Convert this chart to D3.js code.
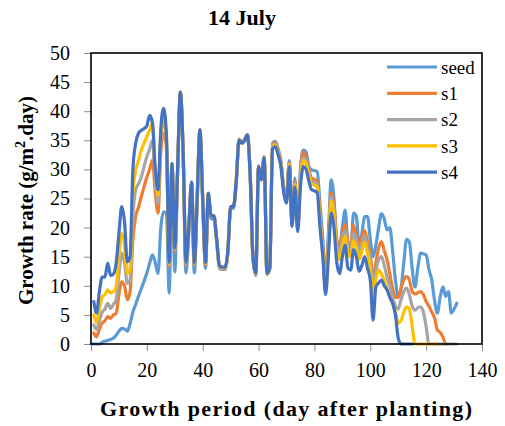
<!DOCTYPE html>
<html>
<head>
<meta charset="utf-8">
<script src="https://cdn.jsdelivr.net/npm/d3@7"></script>
<style>
    body { margin: 0; background: #fff; }
    .axis path { display: none; }
    .axis line { stroke: #8c8c8c; }
    .axis text { font-size: 20px; fill: #000; }
</style>
</head>
<body>
<svg width="505" height="426"></svg>
<script>
var days = [0, 1, 2, 3, 4, 5, 6, 7, 8, 9, 10, 11, 12, 13, 14, 15, 16, 17, 18, 19,
    20, 21, 22, 23, 24, 25, 26, 27, 28, 29, 30, 31, 32, 33, 34, 35, 36, 37, 38, 39,
    40, 41, 42, 43, 44, 45, 46, 47, 48, 49, 50, 51, 52, 53, 54, 55, 56, 57, 58, 59,
    60, 61, 62, 63, 64, 65, 66, 67, 68, 69, 70, 71, 72, 73, 74, 75, 76, 77, 78, 79,
    80, 81, 82, 83, 84, 85, 86, 87, 88, 89, 90, 91, 92, 93, 94, 95, 96, 97, 98, 99,
    100, 101, 102, 103, 104, 105, 106, 107, 108, 109, 110, 111, 112, 113, 114, 115,
    116, 117, 118, 119, 120, 121, 122, 123, 124, 125, 126, 127, 128, 129, 130, 131];

var seed = [0, 0, 0, 0, 0.3, 0.5, 0.6, 0.8, 1, 1.5,
    2.2, 2.7, 2.6, 2.2, 3.5, 5.5, 6.8, 8.2, 9.5, 10.8,
    12.2, 13.9, 15.3, 14, 12.1, 20, 22.7, 22.5, 8.8, 30,
    12.4, 29, 43, 32, 12.2, 19, 27.5, 12.2, 24, 36.5,
    24, 13, 25.5, 21.5, 21.5, 17.5, 13, 12.8, 12.8, 15.5,
    23.3, 23.3, 27.5, 35, 34.5, 35, 36, 29, 14.5, 11.8,
    30.5, 28.5, 32, 12, 13, 34.5, 34.8, 33.5, 31.5, 27,
    25.5, 31.5, 21, 28.5, 20.5, 30, 33.3, 33, 30.5, 29.9,
    29.8, 29.6, 24, 18, 11.6, 19, 28.2, 25, 17.5, 16.7,
    20, 23, 17, 15.5, 22.5, 22, 16.7, 19, 21.9, 21.9,
    18, 15, 17, 20, 22.4, 21.5, 19.6, 20, 16, 11,
    8.1, 9.5, 14, 18, 17.5, 13, 9.8, 13, 15.6, 15.5,
    15.3, 12.8, 11, 7.5, 5.3, 8, 9.8, 8.2, 9, 5.3,
    6, 7];

var s1 = [null, 1.9, 1.25, 2.5, 3.6, 4, 4.7, 4.4, 5, 5.3,
    8.5, 10.7, 10, 7.6, 9, 18, 21.9, 23.5, 25.3, 27,
    28.7, 30, 31.6, 26, 22.5, 33, 36.2, 34, 13.3, 31,
    16, 30, 43.3, 33, 13.5, 20, 27.8, 13.6, 25, 36.8,
    25, 13.6, 25.9, 22, 22, 18, 13.2, 12.9, 12.9, 16,
    23.6, 23.6, 28, 35.2, 34.7, 35.2, 36, 29, 14.8, 12,
    30.6, 28.4, 32.2, 12, 13, 34.3, 34.6, 33.2, 31.2, 26.7,
    25, 31.2, 20.8, 28, 20, 29.5, 33, 32, 30, 28.5,
    28.3, 28, 22, 16.5, 10, 17.5, 25.9, 24, 18, 16.5,
    19, 20.5, 17.5, 17, 20.4, 18.5, 16.5, 18.5, 19.5, 17.5,
    15.5, 11, 14, 16.5, 17.6, 16, 14.5, 12, 9.5, 8,
    8, 9.6, 11, 11.6, 11, 9, 8.6, 8.8, 9, 8.5,
    7.3, 6.5, 5.5, 4.5, 2.4, 2, 1.2, 0, 0, null,
    null, null];

var s2 = [null, 3.3, 2.5, 4, 5.5, 6, 7, 6.1, 6.8, 7.6,
    12, 15.6, 14, 10.4, 11, 22, 26.5, 27.5, 28.7, 30.5,
    32.2, 33.5, 35, 28, 24.2, 35, 38.5, 35, 13.5, 31,
    16.2, 30, 43.3, 33, 13.7, 20, 27.8, 13.8, 25, 36.8,
    25, 13.8, 25.9, 22, 22, 18, 13.3, 13, 13, 16,
    23.6, 23.6, 28, 35.1, 34.6, 35.1, 36, 29, 14.9, 12.1,
    30.5, 28.3, 32.1, 12.1, 13, 34, 34.4, 33, 31, 26.5,
    24.8, 31, 20.6, 27.7, 19.8, 29, 32, 31.5, 29.5, 28,
    27.8, 27.5, 21.5, 16, 9.5, 17, 25.3, 23, 17, 15.5,
    18, 19.5, 16.5, 16, 19, 17.5, 15.5, 17.2, 18.5, 16.5,
    14.5, 9.5, 12.5, 14.5, 15, 13.5, 11.5, 10, 8, 6.5,
    6, 7.6, 9, 9.6, 8.5, 6.5, 5.8, 6.2, 6.4, 5.5,
    3, 0, 0, 0, 0, 0, 0, 0, 0, 0,
    0, 0];

var s3 = [null, 5, 3.7, 6, 8.1, 8.5, 9.3, 8.8, 9, 9.8,
    15, 19, 17, 12.1, 13, 26, 29.9, 31.5, 33.3, 34.5,
    35.6, 36.8, 37.9, 30, 25.6, 36, 39.9, 35.5, 13.8, 31,
    16.4, 30, 43.3, 33, 13.9, 20, 27.8, 13.9, 25, 36.8,
    25, 13.9, 25.9, 22, 22, 18, 13.4, 13.1, 13.1, 16,
    23.6, 23.6, 28, 35, 34.5, 35, 35.9, 29, 15, 12.2,
    30.5, 28.2, 32, 12.2, 13, 33.8, 34.2, 32.8, 30.8, 26.3,
    24.5, 30.8, 20.4, 27.4, 19.6, 28, 31.5, 31, 29, 27.5,
    27.3, 27, 21, 15.5, 9, 16, 24.5, 22, 16, 14.5,
    17, 18.5, 15.5, 15, 17.8, 16.5, 14.5, 16, 17.5, 15.5,
    13.2, 8, 11, 12.7, 12, 11, 9.5, 8.1, 7, 5.5,
    3.6, 4, 5.5, 6.4, 6, 3, 0, 0, 0, 0,
    0, 0, 0, 0, 0, null, null, null, null, null,
    null, null];

var s4 = [null, 7.3, 5.3, 9, 11.5, 11.5, 13.9, 11.8, 12, 13.9,
    19, 23.6, 21, 14.1, 15, 30, 34.5, 36.2, 36.7, 37,
    37.5, 39.3, 38, 30, 26.5, 37, 40.5, 36, 14, 31,
    16.5, 30, 43.3, 33, 14, 20, 27.8, 14, 25, 36.8,
    25, 14, 25.9, 22, 22, 18, 13.5, 13.2, 13.2, 16,
    23.6, 23.6, 28, 35, 34.5, 35, 35.9, 29, 15, 12.2,
    30.5, 28.2, 32, 12.2, 13, 33.5, 33.9, 32.5, 30.5, 26,
    24.2, 30.5, 20.2, 27, 19.3, 27, 30.5, 30, 28, 26.5,
    26.3, 26, 20, 15, 8.5, 15, 22.5, 20, 14, 12.1,
    15, 17, 13, 12.7, 16.2, 15, 12.5, 13.5, 15, 13,
    11, 4.1, 9.8, 10.5, 11, 10, 9.3, 8, 7, 5,
    1, 0, 0, 0, 0, 0, null, null, null, null,
    null, null, null, null, null, null, null, null, null, null,
    null, null];

var seriesNames = ["seed", "s1", "s2", "s3", "s4"];
var seriesValues = [seed, s1, s2, s3, s4];
var seriesColors = ["#5B9BD5", "#ED7D31", "#A5A5A5", "#FFC000", "#4472C4"];
var xTicks = [0, 20, 40, 60, 80, 100, 120, 140];
var yTicks = [0, 5, 10, 15, 20, 25, 30, 35, 40, 45, 50];

var serif = "'Liberation Serif', 'Times New Roman', serif";

var svg = d3.select("svg"),
    margin = {top: 53, right: 23, bottom: 82, left: 91},
    width = +svg.attr("width") - margin.left - margin.right,
    height = +svg.attr("height") - margin.top - margin.bottom;

var x = d3.scaleLinear().domain([0, 140]).range([0, width]);
var y = d3.scaleLinear().domain([0, 50]).range([height, 0]);

var g = svg.append("g")
    .attr("transform", "translate(" + margin.left + "," + margin.top + ")");

// title
svg.append("text")
    .attr("x", 242)
    .attr("y", 25)
    .attr("text-anchor", "middle")
    .style("font-size", "22px")
    .style("font-weight", "bold")
    .text("14 July");

// axes
g.append("g")
    .attr("class", "x axis")
    .attr("transform", "translate(0," + height + ")")
    .call(d3.axisBottom(x).tickValues(xTicks).tickSize(7).tickPadding(12));

g.append("g")
    .attr("class", "y axis")
    .call(d3.axisLeft(y).tickValues(yTicks).tickSize(7).tickPadding(14));

// lines
var line = d3.line()
    .defined(function (d) { return d.v !== null; })
    .x(function (d) { return x(d.day); })
    .y(function (d) { return y(d.v); })
    .curve(d3.curveMonotoneX);

seriesValues.forEach(function (vals, i) {
    var pts = days.map(function (day, j) {
        return {day: day, v: vals[j] === undefined ? null : vals[j]};
    });
    g.append("path")
        .datum(pts)
        .attr("fill", "none")
        .attr("stroke", seriesColors[i])
        .attr("stroke-width", 3.2)
        .attr("stroke-linejoin", "round")
        .attr("stroke-linecap", "round")
        .attr("d", line);
});

// frame
g.append("rect")
    .attr("width", width)
    .attr("height", height)
    .attr("fill", "none")
    .attr("stroke", "#000")
    .attr("stroke-width", 1.6);

// legend
var legend = g.append("g")
    .attr("transform", "translate(" + (width - 95) + ",14)");

seriesNames.forEach(function (name, i) {
    var row = legend.append("g").attr("transform", "translate(0," + (i * 26.3) + ")");
    row.append("line")
        .attr("x1", 0).attr("x2", 50)
        .attr("stroke", seriesColors[i])
        .attr("stroke-width", 3.2);
    row.append("text")
        .attr("x", 54)
        .attr("dy", "0.35em")
        .style("font-size", "19px")
        .text(name);
});

// axis titles
svg.append("text")
    .attr("x", 286)
    .attr("y", 416)
    .attr("text-anchor", "middle")
    .attr("textLength", 372)
    .attr("lengthAdjust", "spacing")
    .style("font-size", "22px")
    .style("font-weight", "bold")
    .text("Growth period (day after planting)");

var yTitle = svg.append("text")
    .attr("transform", "translate(33," + (margin.top + height / 2 + 2) + ") rotate(-90)")
    .attr("text-anchor", "middle")
    .style("font-size", "21px")
    .style("font-weight", "bold");
yTitle.append("tspan").text("Growth rate (g/m");
yTitle.append("tspan").attr("dy", -8).style("font-size", "14px").text("2");
yTitle.append("tspan").attr("dy", 8).text(".day)");

// every label in the serif face
svg.selectAll("text").style("font-family", serif);
</script>
</body>
</html>
